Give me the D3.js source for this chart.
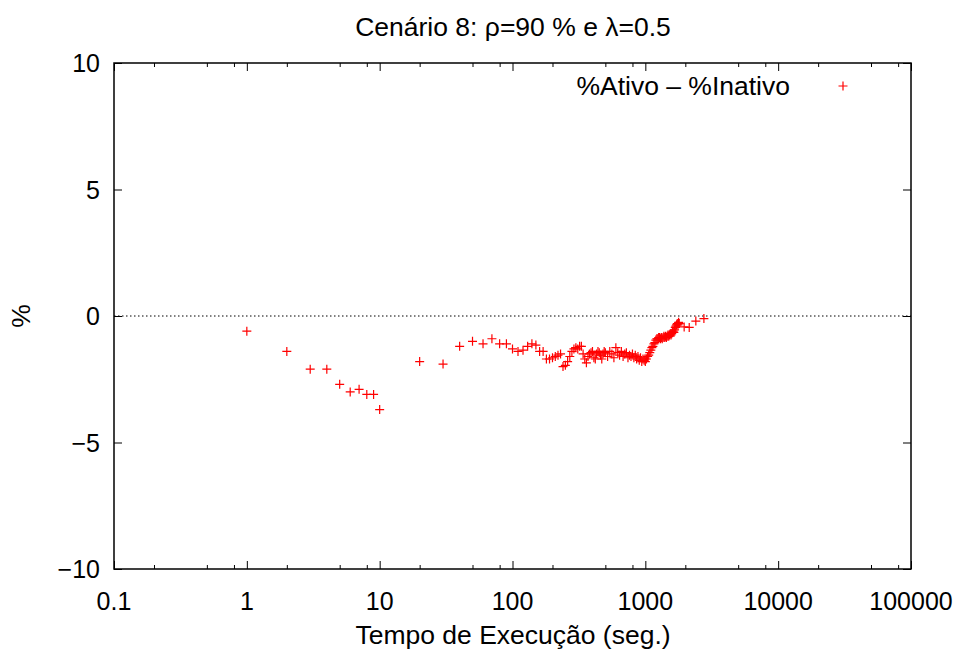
<!DOCTYPE html>
<html>
<head>
<meta charset="utf-8">
<script src="https://cdn.jsdelivr.net/npm/d3@7"></script>
<style>
  body { margin: 0; background: #ffffff; }
  text { font-family: "Liberation Sans", Arial, sans-serif; fill: #000000; }
</style>
</head>
<body>
<svg id="chart" width="964" height="655"></svg>
<script>
// tempo de execucao (seg.)
const tempos = [
  1, 2, 3, 4, 5, 6, 7, 8, 9, 10,
  20, 30, 40, 50, 60, 70, 80, 90, 100, 110, 120, 130,
  140, 150, 160, 170, 180, 190, 200, 210, 220, 230, 240, 250, 260, 270, 280, 290, 300,
  310, 320, 330, 340, 350, 360, 370, 380, 390, 400, 410, 420, 430, 440, 450, 460, 470, 480, 490, 500,
  520, 540, 560, 580, 600, 620, 640, 660, 680, 700, 720, 740, 760, 780, 800, 820, 840, 860, 880, 900, 920, 940, 960, 980, 1000,
  1020, 1040, 1060, 1080, 1100, 1120, 1140, 1160, 1180, 1200, 1220, 1240, 1260, 1280, 1300, 1320, 1340, 1360, 1380, 1400,
  1420, 1440, 1460, 1480, 1500, 1520, 1540, 1560, 1580, 1600, 1620, 1640, 1660, 1680, 1700, 1720, 1740, 1760, 1780, 1800,
  1960, 2140, 2400, 2760
];
// %Ativo - %Inativo
const diferenca = [
  -0.6, -1.4, -2.1, -2.1, -2.7, -3.0, -2.9, -3.1, -3.1, -3.7,
  -1.8, -1.9, -1.2, -1.0, -1.1, -0.9, -1.1, -1.1, -1.3, -1.4, -1.35, -1.2,
  -1.1, -1.15, -1.4, -1.4, -1.7, -1.7, -1.65, -1.6, -1.55, -1.5, -2.0, -1.95, -1.8, -1.6, -1.4, -1.3, -1.25,
  -1.3, -1.2, -1.2, -1.5, -1.7, -1.85, -1.6, -1.5, -1.45, -1.4, -1.65, -1.7, -1.5, -1.4, -1.45, -1.55, -1.7, -1.5, -1.4, -1.45,
  -1.6, -1.4, -1.5, -1.65, -1.25, -1.45, -1.55, -1.4, -1.6, -1.5, -1.45, -1.65, -1.55, -1.6, -1.5, -1.65, -1.55, -1.7, -1.6, -1.75, -1.65, -1.8, -1.7, -1.75, -1.8,
  -1.7, -1.6, -1.55, -1.45, -1.35, -1.25, -1.2, -1.1, -1.05, -0.95, -0.9, -0.9, -0.85, -0.85, -0.9, -0.85, -0.9, -0.85, -0.8, -0.85,
  -0.8, -0.85, -0.8, -0.75, -0.8, -0.75, -0.7, -0.75, -0.7, -0.65, -0.6, -0.65, -0.55, -0.45, -0.4, -0.35, -0.3, -0.35, -0.25, -0.3,
  -0.43, -0.45, -0.2, -0.1
];
const xTicks = [0.1, 1, 10, 100, 1000, 10000, 100000];
const xTickLabels = ["0.1", "1", "10", "100", "1000", "10000", "100000"];
const yTicks = [-10, -5, 0, 5, 10];
const yTickLabels = ["\u221210", "\u22125", "0", "5", "10"];

const svg = d3.select("#chart");
const prop_left = 114, prop_right = 911, prop_top = 63, prop_bottom = 569;
const corVermelha = "#ff0000";
const tamTick = "25px", tamTitulo = "26.5px";

const x = d3.scaleLog().domain([0.1, 100000]).range([prop_left, prop_right]);
const y = d3.scaleLinear().domain([-10, 10]).range([prop_bottom, prop_top]);

// minor ticks (2, 5, 8 of each decade)
let minorTicks = [];
for (let d = 0; d < 6; d++) {
  [2, 5, 8].forEach(m => minorTicks.push(xTicks[d] * m));
}

// zero line
svg.append("line")
  .attr("x1", prop_left).attr("x2", prop_right)
  .attr("y1", y(0)).attr("y2", y(0))
  .attr("stroke", "#000").attr("stroke-width", 1)
  .attr("stroke-dasharray", "1.5,2.5");

// axes (ticks inward, mirrored)
const g_axes = svg.append("g");
g_axes.append("g")
  .attr("transform", "translate(0," + prop_bottom + ")")
  .call(d3.axisBottom(x).tickValues(xTicks).tickSize(-8).tickFormat(""))
  .call(g => g.select(".domain").remove());
g_axes.append("g")
  .attr("transform", "translate(0," + prop_bottom + ")")
  .call(d3.axisBottom(x).tickValues(minorTicks).tickSize(-4).tickFormat(""))
  .call(g => g.select(".domain").remove());
g_axes.append("g")
  .attr("transform", "translate(0," + prop_top + ")")
  .call(d3.axisTop(x).tickValues(xTicks).tickSize(-8).tickFormat(""))
  .call(g => g.select(".domain").remove());
g_axes.append("g")
  .attr("transform", "translate(0," + prop_top + ")")
  .call(d3.axisTop(x).tickValues(minorTicks).tickSize(-4).tickFormat(""))
  .call(g => g.select(".domain").remove());
g_axes.append("g")
  .attr("transform", "translate(" + prop_left + ",0)")
  .call(d3.axisLeft(y).tickValues(yTicks).tickSize(-8).tickFormat(""))
  .call(g => g.select(".domain").remove());
g_axes.append("g")
  .attr("transform", "translate(" + prop_right + ",0)")
  .call(d3.axisRight(y).tickValues(yTicks).tickSize(-8).tickFormat(""))
  .call(g => g.select(".domain").remove());
g_axes.selectAll(".tick line").attr("stroke", "#000").attr("stroke-width", 1);

// frame
svg.append("rect")
  .attr("x", prop_left).attr("y", prop_top)
  .attr("width", prop_right - prop_left).attr("height", prop_bottom - prop_top)
  .attr("fill", "none").attr("stroke", "#000").attr("stroke-width", 1.5);

// tick labels
svg.append("g").selectAll("text")
  .data(xTicks)
  .join("text")
  .attr("x", d => x(d))
  .attr("y", prop_bottom + 41)
  .attr("text-anchor", "middle")
  .style("font-size", tamTick)
  .text((d, i) => xTickLabels[i]);
svg.append("g").selectAll("text")
  .data(yTicks)
  .join("text")
  .attr("x", prop_left - 14)
  .attr("y", d => y(d) + 9)
  .attr("text-anchor", "end")
  .style("font-size", tamTick)
  .text((d, i) => yTickLabels[i]);

// titles
svg.append("text")
  .attr("x", 513).attr("y", 36)
  .attr("text-anchor", "middle")
  .style("font-size", tamTitulo)
  .text("Cenário 8: ρ=90 % e λ=0.5");
svg.append("text")
  .attr("x", 513).attr("y", 644)
  .attr("text-anchor", "middle")
  .style("font-size", tamTitulo)
  .text("Tempo de Execução (seg.)");
svg.append("text")
  .attr("transform", "translate(30," + y(0) + ") rotate(-90)")
  .attr("text-anchor", "middle")
  .style("font-size", tamTitulo)
  .text("%");

// points
function fn_cruz(cx, cy) {
  return "M" + (cx - 4.5) + "," + cy + "h9M" + cx + "," + (cy - 4.5) + "v9";
}
const g_pontos = svg.append("g");
g_pontos.selectAll("path")
  .data(d3.zip(tempos, diferenca))
  .join("path")
  .attr("d", d => fn_cruz(x(d[0]), y(d[1])))
  .attr("stroke", corVermelha)
  .attr("stroke-width", 1.2)
  .attr("fill", "none");

// legend
svg.append("text")
  .attr("x", 790).attr("y", 95)
  .attr("text-anchor", "end")
  .style("font-size", tamTitulo)
  .text("%Ativo \u2013 %Inativo");
svg.append("path")
  .attr("d", fn_cruz(843, 86))
  .attr("stroke", corVermelha)
  .attr("stroke-width", 1.2)
  .attr("fill", "none");
</script>
</body>
</html>
